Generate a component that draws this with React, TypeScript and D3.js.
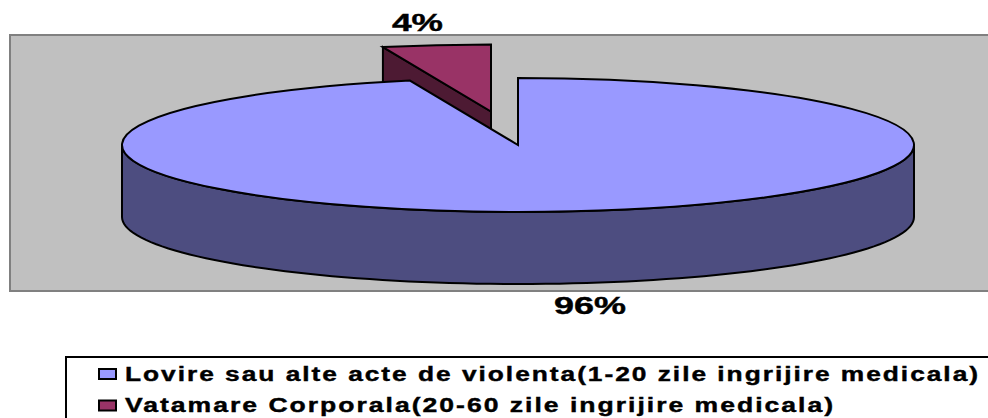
import * as d3 from "d3";

const categories = [
  "Lovire sau alte acte de violenta(1-20 zile ingrijire medicala)",
  "Vatamare Corporala(20-60 zile ingrijire medicala)",
];
const values = [95.6, 4.4];
const topColors = ["#9999FF", "#993366"];
const wallColors = ["#4D4D80", "#4D1A33"];

const width = 988;
const height = 418;

// pie geometry, squashed ellipse for the fake 3D look
const cx = 518;
const cy = 145;
const rx = 396;
const ry = 67;
const depth = 72;
const explode = { x: -27, y: -33.5 };

const font = "'Liberation Sans', Arial, sans-serif";

export default function App() {
  const slices = d3.pie<number>().sort(null)(values);
  const [blue, red] = slices;
  const pct = d3.format(".0f");

  const arc = d3.arc<d3.PieArcDatum<number>>().innerRadius(0).outerRadius(rx);

  // point on the ellipse rim for a pie angle (0 = up, clockwise)
  const rim = (a: number): [number, number] => [Math.sin(a) * rx, -Math.cos(a) * ry];

  // front wall of the blue slice, only the half facing us is visible
  const frontAngles = d3.range(Math.PI / 2, (Math.PI * 3) / 2 + 0.001, Math.PI / 90);
  const front = frontAngles.map(rim);
  const wallPts: [number, number][] = [
    ...front,
    ...front.slice().reverse().map(([x, y]): [number, number] => [x, y + depth]),
  ];
  const line = d3.line();

  // cut face of the exploded red slice, mostly hidden behind the blue top
  const [ex, ey] = rim(red.startAngle);
  const cutFace: [number, number][] = [
    [0, 0],
    [ex, ey],
    [ex, ey + depth],
    [0, depth],
  ];

  return (
    <svg
      width={width}
      height={height}
      viewBox={`0 0 ${width} ${height}`}
      style={{ position: "absolute", left: 0, top: 0, fontFamily: font }}
    >
      <rect width={width} height={height} fill="#fff" />

      {/* plot area, runs off the right edge */}
      <rect x={10} y={35} width={width} height={256} fill="#C0C0C0" stroke="#808080" strokeWidth={2} />

      {/* red exploded slice */}
      <g transform={`translate(${cx + explode.x},${cy + explode.y})`}>
        <path d={line(cutFace) + "Z"} fill={wallColors[1]} stroke="#000" strokeWidth={2} />
        <g transform={`scale(1,${ry / rx})`}>
          <path
            d={arc(red) as string}
            fill={topColors[1]}
            stroke="#000"
            strokeWidth={2}
            vectorEffect="non-scaling-stroke"
          />
        </g>
      </g>

      {/* blue slice */}
      <g transform={`translate(${cx},${cy})`}>
        <path d={line(wallPts) + "Z"} fill={wallColors[0]} stroke="#000" strokeWidth={2} />
        <g transform={`scale(1,${ry / rx})`}>
          <path
            d={arc(blue) as string}
            fill={topColors[0]}
            stroke="#000"
            strokeWidth={2}
            vectorEffect="non-scaling-stroke"
          />
        </g>
      </g>

      {/* data labels */}
      <text x={417.5} y={30.5} fontSize={24} fontWeight="bold" textAnchor="middle" textLength={51} lengthAdjust="spacingAndGlyphs" stroke="#000" strokeWidth={0.4}>
        {pct(values[1]) + "%"}
      </text>
      <text x={590} y={314} fontSize={24} fontWeight="bold" textAnchor="middle" textLength={72} lengthAdjust="spacingAndGlyphs" stroke="#000" strokeWidth={0.4}>
        {pct(values[0]) + "%"}
      </text>

      {/* legend, box is cut by the page edge */}
      <rect x={66} y={357} width={width} height={100} fill="#fff" stroke="#000" strokeWidth={2} />
      {categories.map((c, i) => (
        <g key={c}>
          <rect x={99} y={369 + i * 31.5} width={17} height={10} fill={topColors[i]} stroke="#000" strokeWidth={2} />
          <text
            x={125}
            y={381 + i * 31}
            fontSize={20}
            fontWeight="bold"
            letterSpacing={1.5}
            textLength={i === 0 ? 855 : 710}
            lengthAdjust="spacingAndGlyphs"
            stroke="#000"
            strokeWidth={0.4}
          >
            {c}
          </text>
        </g>
      ))}
    </svg>
  );
}
